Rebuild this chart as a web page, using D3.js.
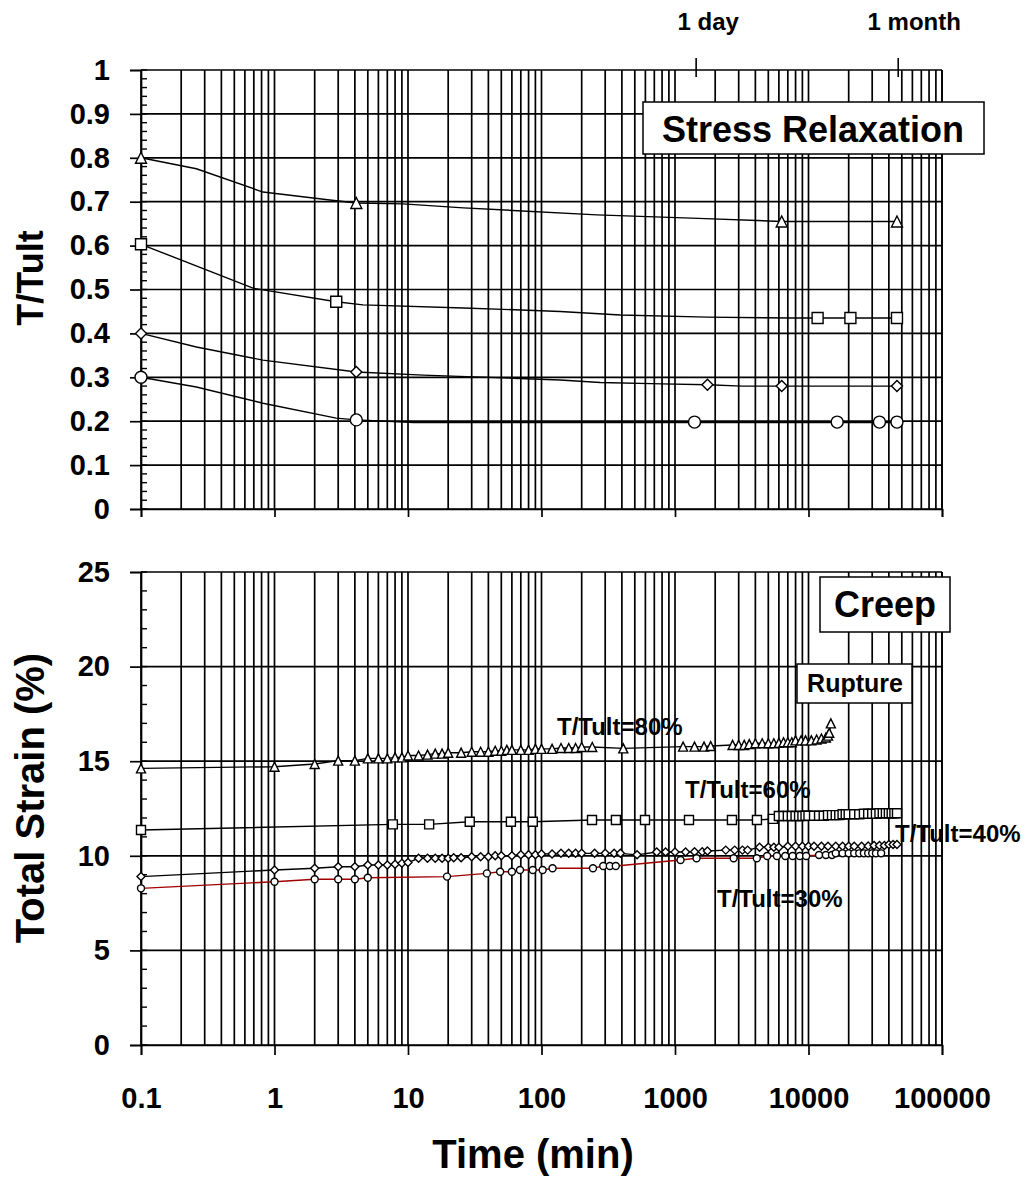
<!DOCTYPE html>
<html><head><meta charset="utf-8">
<script src="https://cdn.jsdelivr.net/npm/d3@7"></script>
<style>
body{margin:0;background:#fff}
svg text{font-family:"Liberation Sans",Arial,Helvetica,sans-serif;font-weight:bold;fill:#000}
</style>
</head><body>
<svg id="chart" width="1032" height="1180"></svg>
<script>
// ---------------- data ----------------
const xTickValues = [0.1, 1, 10, 100, 1000, 10000, 100000];
const xTickLabels = ["0.1", "1", "10", "100", "1000", "10000", "100000"];
const relaxTicks = [0, 0.1, 0.2, 0.3, 0.4, 0.5, 0.6, 0.7, 0.8, 0.9, 1];
const relaxTickLabels = ["0", "0.1", "0.2", "0.3", "0.4", "0.5", "0.6", "0.7", "0.8", "0.9", "1"];
const creepTicks = [0, 5, 10, 15, 20, 25];
const creepTickLabels = ["0", "5", "10", "15", "20", "25"];
const timeMarks = [1440, 47000];
const timeMarkLabels = ["1 day", "1 month"];

// Stress relaxation: fitted lines (time min, T/Tult)
const relaxLine80 = [[0.1,0.80],[0.26,0.775],[0.82,0.722],[2.6,0.704],[4.1,0.697],[9.2,0.695],[26,0.686],[260,0.67],[1500,0.662],[6300,0.655],[46000,0.655]];
const relaxLine60 = [[0.1,0.603],[0.69,0.503],[2.9,0.472],[4.6,0.465],[26,0.458],[138,0.45],[390,0.442],[1750,0.437],[7400,0.435],[46000,0.435]];
const relaxLine40 = [[0.1,0.40],[0.26,0.369],[0.82,0.339],[4.1,0.312],[13,0.305],[61,0.298],[138,0.294],[275,0.288],[800,0.285],[1750,0.283],[3200,0.28],[46000,0.28]];
const relaxLine30 = [[0.1,0.30],[0.26,0.278],[0.82,0.241],[2.9,0.207],[4.1,0.203],[11,0.197],[46000,0.197]];
// Stress relaxation: measured points
const relaxPts80 = [[0.1,0.80],[4.1,0.697],[6300,0.655],[46000,0.655]];
const relaxPts60 = [[0.1,0.603],[2.9,0.472],[11700,0.435],[20600,0.435],[46000,0.435]];
const relaxPts40 = [[0.1,0.40],[4.1,0.312],[1750,0.283],[6300,0.28],[46000,0.28]];
const relaxPts30 = [[0.1,0.30],[4.1,0.203],[1400,0.198],[16400,0.198],[34000,0.198],[46000,0.198]];

// Creep: total strain (%) vs time (min)
const creep80 = [[0.1,14.62],[1,14.71],[2,14.85],[3,15.03],[4,15.03],[5,15.15],[6,15.15],[7,15.15],[8,15.2],[9,15.2],[10,15.3],[12,15.3],[14,15.35],[16,15.4],[18,15.4],[20,15.45],[25,15.45],[30,15.5],[35,15.5],[40,15.5],[45,15.55],[50,15.55],[55,15.6],[60,15.6],[70,15.6],[80,15.6],[90,15.65],[100,15.65],[120,15.65],[140,15.7],[160,15.7],[180,15.7],[200,15.75],[240,15.75],[410,15.68],[1150,15.77],[1400,15.77],[1650,15.77],[1850,15.8],[2700,15.86],[3000,15.86],[3300,15.86],[3600,15.9],[4000,15.95],[4500,15.95],[5000,15.95],[5500,15.95],[6000,15.97],[6500,16.0],[7000,16.0],[7500,16.0],[8000,16.1],[8800,16.1],[9500,16.1],[10500,16.1],[11500,16.15],[12500,16.2],[13500,16.25],[14000,16.35],[14300,16.5],[14700,17.0]];
const creep60 = [[0.1,11.36],[7.7,11.66],[14.4,11.66],[29,11.8],[59,11.8],[86,11.8],[239,11.89],[361,11.89],[596,11.89],[1273,11.89],[2670,11.89],[4110,11.89],[5420,11.95],[6000,12.1],[6500,12.1],[7000,12.1],[7500,12.1],[8000,12.1],[8500,12.1],[9000,12.1],[9500,12.12],[10000,12.12],[11000,12.12],[12000,12.12],[13000,12.12],[14000,12.15],[15000,12.15],[16000,12.15],[17000,12.15],[18000,12.2],[19000,12.2],[20000,12.2],[22000,12.2],[24000,12.2],[26000,12.22],[28000,12.22],[30000,12.22],[32000,12.22],[34000,12.25],[36000,12.25],[38000,12.25],[40000,12.25],[42000,12.25],[44000,12.25],[46000,12.25]];
const creep40 = [[0.1,8.9],[1,9.25],[2,9.34],[3,9.42],[4,9.42],[5,9.51],[6,9.51],[7,9.51],[8,9.55],[9,9.6],[10,9.64],[12,9.87],[14,9.87],[16,9.87],[18,9.87],[20,9.87],[22,9.9],[25,9.9],[30,9.95],[35,9.95],[40,9.95],[45,10.0],[50,10.0],[60,10.0],[70,10.05],[80,10.05],[90,10.05],[100,10.1],[120,10.1],[140,10.13],[160,10.13],[180,10.13],[200,10.13],[250,10.13],[300,10.13],[350,10.13],[390,10.13],[520,10.05],[730,10.2],[850,10.2],[1000,10.2],[1200,10.2],[1400,10.22],[1600,10.22],[1750,10.25],[2400,10.3],[2800,10.3],[3200,10.3],[3500,10.3],[4300,10.45],[5000,10.45],[5500,10.45],[6000,10.45],[7000,10.5],[8000,10.5],[9000,10.5],[10000,10.5],[11000,10.5],[12500,10.5],[14000,10.5],[16000,10.5],[18000,10.5],[20000,10.5],[22000,10.5],[25000,10.5],[28000,10.52],[31000,10.55],[34000,10.55],[37000,10.55],[40000,10.6],[43000,10.6],[46000,10.6]];
const creep30 = [[0.1,8.28],[1,8.63],[2,8.76],[3,8.76],[4,8.76],[5,8.84],[19.6,8.9],[39,9.07],[49,9.16],[60,9.16],[69,9.25],[86,9.25],[102,9.25],[121,9.34],[243,9.34],[290,9.46],[325,9.46],[360,9.46],[1100,9.78],[1450,9.87],[2750,9.87],[4100,9.87],[4900,9.99],[5800,9.99],[6700,9.99],[7600,9.99],[8600,9.99],[9600,9.99],[12000,10.04],[13500,10.04],[15000,10.04],[16000,10.13],[18000,10.13],[20000,10.13],[22000,10.13],[24000,10.13],[26000,10.13],[28000,10.13],[30000,10.13],[32000,10.13],[35000,10.13]];

const creepLabels = ["T/Tult=80%", "T/Tult=60%", "T/Tult=40%", "T/Tult=30%"];

// ---------------- drawing ----------------
const svg = d3.select("#chart");
const L = 141, R = 942;
const x = d3.scaleLog().domain([0.1, 100000]).range([L, R]);
const yTop = d3.scaleLinear().domain([0, 1]).range([509, 70]);
const yBot = d3.scaleLinear().domain([0, 25]).range([1045, 572]);
const GRID_W = 1.7;

function marker(type, s) {
  const h = s / 2;
  if (type === "tri") return `M0,${-h}L${h},${h}L${-h},${h}Z`;
  if (type === "sq") return `M${-h},${-h}H${h}V${h}H${-h}Z`;
  if (type === "dia") return `M0,${-h}L${h},0L0,${h}L${-h},0Z`;
  return d3.symbol(d3.symbolCircle, Math.PI * h * h)();
}

function panel(y, ticks, labels, minorStep) {
  const g = svg.append("g");
  const [y0, y1] = y.range();
  g.selectAll("line.v").data(x.ticks()).join("line")
    .attr("x1", d => x(d)).attr("x2", d => x(d))
    .attr("y1", y1).attr("y2", y0)
    .attr("stroke", "#000").attr("stroke-width", GRID_W);
  g.selectAll("line.h").data(ticks).join("line")
    .attr("x1", L).attr("x2", R)
    .attr("y1", d => y(d)).attr("y2", d => y(d))
    .attr("stroke", "#000").attr("stroke-width", GRID_W);
  g.selectAll("line.m").data(d3.range(y.domain()[0], y.domain()[1] + 1e-9, minorStep)).join("line")
    .attr("x1", L).attr("x2", L + 6)
    .attr("y1", d => y(d)).attr("y2", d => y(d))
    .attr("stroke", "#000").attr("stroke-width", 1.4);
  const ax = g.append("g").attr("transform", `translate(${L},0)`)
    .call(d3.axisLeft(y).tickValues(ticks).tickFormat((d, i) => labels[i]).tickSize(11).tickPadding(20));
  ax.select(".domain").attr("stroke", "#000").attr("stroke-width", GRID_W);
  ax.selectAll(".tick line").attr("stroke", "#000").attr("stroke-width", GRID_W);
  ax.selectAll("text").attr("font-size", 29).attr("font-family", "Liberation Sans, Arial, sans-serif").attr("font-weight", "bold").attr("fill", "#000");
  g.append("line").attr("x1", R).attr("x2", R).attr("y1", y1).attr("y2", y0).attr("stroke", "#000").attr("stroke-width", GRID_W);
  return g;
}

panel(yTop, relaxTicks, relaxTickLabels, 0.02);
panel(yBot, creepTicks, creepTickLabels, 1);

const xa = svg.append("g").attr("transform", `translate(0,${yBot(0)})`)
  .call(d3.axisBottom(x).tickValues(xTickValues).tickFormat((d, i) => xTickLabels[i]).tickSize(10).tickPadding(32));
xa.select(".domain").attr("stroke", "#000").attr("stroke-width", GRID_W);
xa.selectAll(".tick line").attr("stroke", "#000").attr("stroke-width", GRID_W);
xa.selectAll("text").attr("font-size", 29).attr("font-family", "Liberation Sans, Arial, sans-serif").attr("font-weight", "bold").attr("fill", "#000");

const xt = svg.append("g").attr("transform", `translate(0,${yTop(0)})`)
  .call(d3.axisBottom(x).tickValues(xTickValues).tickFormat("").tickSize(8));
xt.select(".domain").attr("stroke", "#000").attr("stroke-width", GRID_W);
xt.selectAll(".tick line").attr("stroke", "#000").attr("stroke-width", GRID_W);

timeMarks.forEach((t, i) => {
  svg.append("line").attr("x1", x(t)).attr("x2", x(t)).attr("y1", 58).attr("y2", 77)
    .attr("stroke", "#000").attr("stroke-width", 1.6);
  svg.append("text").attr("x", x(t) + (i === 0 ? 12 : 16)).attr("y", 30)
    .attr("text-anchor", "middle").attr("font-size", 24).text(timeMarkLabels[i]);
});

const line = (y) => d3.line().x(d => x(d[0])).y(d => y(d[1]));
function series(y, lineData, ptsData, type, size, color) {
  svg.append("path").attr("d", line(y)(lineData)).attr("fill", "none")
    .attr("stroke", color).attr("stroke-width", 1.4);
  svg.append("g").selectAll("path").data(ptsData).join("path")
    .attr("transform", d => `translate(${x(d[0])},${y(d[1])})`)
    .attr("d", marker(type, size))
    .attr("fill", "#fff").attr("stroke", "#000").attr("stroke-width", 1.4);
}
series(yTop, relaxLine80, relaxPts80, "tri", 11, "#000");
series(yTop, relaxLine60, relaxPts60, "sq", 11, "#000");
series(yTop, relaxLine40, relaxPts40, "dia", 11, "#000");
series(yTop, relaxLine30, relaxPts30, "circ", 12, "#000");

series(yBot, creep80, creep80, "tri", 9, "#000");
series(yBot, creep60, creep60, "sq", 9, "#000");
series(yBot, creep40, creep40, "dia", 8, "#000");
series(yBot, creep30, creep30, "circ", 7, "#a00000");

function box(x0, y0, w, h, label, fs, tx, ty) {
  svg.append("rect").attr("x", x0).attr("y", y0).attr("width", w).attr("height", h)
    .attr("fill", "#fff").attr("stroke", "#000").attr("stroke-width", 1.5);
  svg.append("text").attr("x", tx).attr("y", ty).attr("text-anchor", "middle")
    .attr("font-size", fs).text(label);
}
box(643, 102, 341, 52, "Stress Relaxation", 36, 813, 142);
box(820, 577, 130, 55, "Creep", 36, 885, 617);
box(797, 664, 115, 39, "Rupture", 25, 855, 692);

const annPos = [[557, 735], [685, 798], [895, 842], [717, 907]];
creepLabels.forEach((t, i) => {
  svg.append("text").attr("x", annPos[i][0]).attr("y", annPos[i][1])
    .attr("font-size", 24).text(t);
});

svg.append("text").attr("transform", "translate(43,278) rotate(-90)")
  .attr("text-anchor", "middle").attr("font-size", 36).text("T/Tult");
svg.append("text").attr("transform", "translate(44,798) rotate(-90)")
  .attr("text-anchor", "middle").attr("font-size", 40).text("Total Strain (%)");
svg.append("text").attr("x", 533).attr("y", 1168)
  .attr("text-anchor", "middle").attr("font-size", 40).text("Time (min)");
</script>
</body></html>
